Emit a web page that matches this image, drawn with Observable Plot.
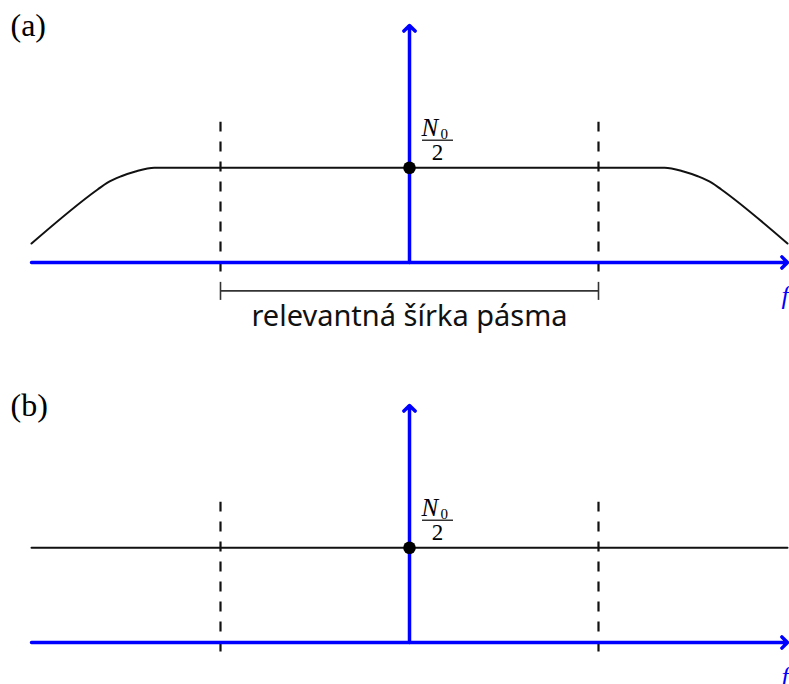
<!DOCTYPE html>
<html>
<head>
<meta charset="utf-8">
<script src="https://cdn.jsdelivr.net/npm/d3@7"></script>
<script src="https://cdn.jsdelivr.net/npm/@observablehq/plot@0.6"></script>
<style>
  html, body { margin: 0; padding: 0; background: #fff; }
  #chart { width: 789px; overflow: hidden; }
  #chart svg { display: block; overflow: visible; }
</style>
</head>
<body>
<div id="chart"></div>
<script>
// Frequency axis (arbitrary units, centred on f = 0)
const freqDomain = [-4, 4];
const psdTop = 2.5;

// Band of interest: edges of the relevant bandwidth
const bandEdges = [-2, 2];
const bandLabel = "relevantná šírka pásma";

// Noise level N0/2
const noiseLevel = 1;

// (a) band-limited noise PSD: flat in the middle, rolling off at both ends
const psdFreqA = [-4, -3.3, -3.2, -3.05, -2.9, -2.7, 2.7, 2.9, 3.05, 3.2, 3.3, 4];
const psdValA  = [0.2, 0.77, 0.84, 0.91, 0.96, 1, 1, 0.96, 0.91, 0.84, 0.77, 0.2];

// (b) ideal white noise PSD: flat everywhere
const psdFreqB = [-4, 4];
const psdValB  = [1, 1];

// Panel and axis labels
const panelLabels = ["(a)", "(b)"];
const axisLabel = "f";

const blue = "#0000ff";
const serif = "'Liberation Serif', 'DejaVu Serif', serif";
const sans = "'Noto Sans', 'Open Sans', sans-serif";

function panel({label, freq, val, yMin, height, bracket}) {
  const curve = freq.map((f, i) => ({f, s: val[i]}));
  const peak = [{f: 0, s: noiseLevel}];
  const axisStyle = {stroke: blue, strokeWidth: 3.5, headAngle: 90, headLength: 3.4};
  const marks = [
    // band edges
    Plot.ruleX(bandEdges, {x: d => d, y1: -0.1, y2: 1.48, stroke: "#111", strokeWidth: 2.2, strokeDasharray: "10,10"}),
    // PSD curve
    Plot.line(curve, {x: "f", y: "s", stroke: "#111", strokeWidth: 2, curve: "monotone-x"}),
    // axes with open arrowheads
    Plot.arrow([{x1: freqDomain[0], x2: freqDomain[1], y1: 0, y2: 0}], {x1: "x1", x2: "x2", y1: "y1", y2: "y2", ...axisStyle}),
    Plot.arrow([{x1: 0, x2: 0, y1: 0, y2: psdTop}], {x1: "x1", x2: "x2", y1: "y1", y2: "y2", ...axisStyle}),
    // value at f = 0
    Plot.dot(peak, {x: "f", y: "s", r: 6.3, fill: "#000"}),
    Plot.text(peak, {x: "f", y: "s", text: () => "N", fontFamily: serif, fontStyle: "italic", fontSize: 25, textAnchor: "start", lineAnchor: "bottom", dx: 12, dy: -32, fill: "#000"}),
    Plot.text(peak, {x: "f", y: "s", text: () => "0", fontFamily: serif, fontSize: 15, textAnchor: "start", lineAnchor: "bottom", dx: 31, dy: -29, fill: "#000"}),
    Plot.text(peak, {x: "f", y: "s", text: () => "2", fontFamily: serif, fontSize: 23, textAnchor: "middle", lineAnchor: "bottom", dx: 28, dy: -8, fill: "#000"}),
    // panel label
    Plot.text([label], {frameAnchor: "top-left", text: d => d, fontFamily: serif, fontSize: 32, textAnchor: "start", lineAnchor: "bottom", dx: -21, dy: 10, fill: "#000"}),
    // frequency axis label
    Plot.text([axisLabel], {x: freqDomain[1], y: 0, text: d => d, fontFamily: serif, fontStyle: "italic", fontSize: 26, fill: blue, textAnchor: "start", lineAnchor: "bottom", dx: -6, dy: 42})
  ];
  if (bracket) {
    marks.push(
      Plot.ruleY([-0.3], {x1: bandEdges[0], x2: bandEdges[1], y: d => d, stroke: "#333", strokeWidth: 1.6}),
      Plot.ruleX(bandEdges, {x: d => d, y1: -0.21, y2: -0.4, stroke: "#333", strokeWidth: 1.6}),
      Plot.text([bandLabel], {x: 0, y: -0.3, text: d => d, fontFamily: sans, fontSize: 29, fill: "#111", textAnchor: "middle", lineAnchor: "middle", dy: 26})
    );
  }
  const plot = Plot.plot({
    width: 789,
    height,
    marginLeft: 31,
    marginRight: 2,
    marginTop: 25,
    marginBottom: 0,
    x: {domain: freqDomain, axis: null},
    y: {domain: [yMin, psdTop], axis: null},
    marks
  });
  // fraction bar of N0/2, placed from the scales at the peak value
  const x = plot.scale("x"), y = plot.scale("y");
  const px = x.apply(0), py = y.apply(noiseLevel);
  d3.select(plot).append("line")
    .attr("x1", px + 13).attr("x2", px + 44)
    .attr("y1", py - 27).attr("y2", py - 27)
    .attr("stroke", "#000").attr("stroke-width", 1.2);
  return plot;
}

const chart = document.getElementById("chart");
chart.append(panel({label: panelLabels[0], freq: psdFreqA, val: psdValA, yMin: -1.245, height: 380, bracket: true}));
chart.append(panel({label: panelLabels[1], freq: psdFreqB, val: psdValB, yMin: -0.443, height: 304, bracket: false}));
</script>
</body>
</html>
